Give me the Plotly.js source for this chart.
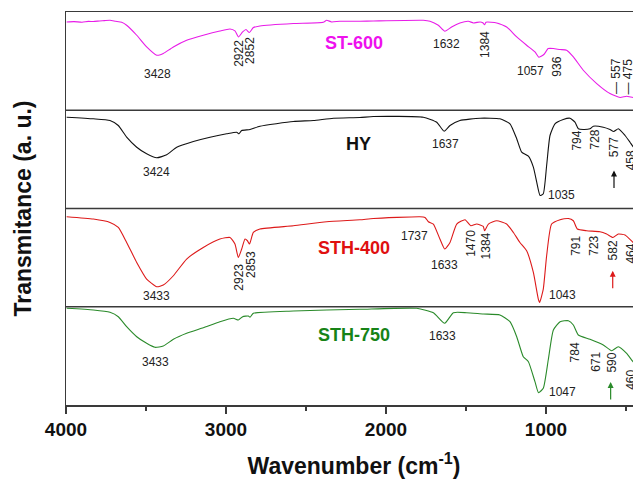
<!DOCTYPE html>
<html><head><meta charset="utf-8">
<script src="https://cdn.plot.ly/plotly-3.0.1.min.js"></script>
<style>html,body{margin:0;padding:0;overflow:hidden;background:#fff}#chart{width:660px;height:482px}</style>
</head><body><div id="chart"></div>
<script>
// ---- data (wavenumber in cm-1, transmittance in a.u. within each panel) ----
const samples = ['ST-600', 'HY', 'STH-400', 'STH-750'];

const wnST600 = [3996,3950,3900,3860,3829,3790,3760,3725,3690,3652,3621,3558,3496,3433,3410,3392,3329,3246,3142,3038,2975,2944,2922,2896,2875,2854,2829,2788,2579,2392,2371,2340,2288,2163,2079,1767,1725,1673,1632,1590,1538,1485,1454,1412,1395,1384,1375,1308,1246,1183,1121,1069,1045,1030,1012,986,954,912,871,829,767,683,600,537,496,456,400];
const tST600 = [88.3,88.6,88.0,88.9,88.7,89.3,89.6,90,89,88,85,75,63.3,55,55.5,56.7,63.3,70,75,79.3,81.3,79.3,73.3,78.3,80.7,77.7,82.7,84.3,86.7,88,90,88.3,89,89,89.3,90,89,85,79,83.3,87.3,89,87.3,88.3,87.5,85.5,88,87.3,83.3,73.3,65,58.3,53,54,56,61.7,61.7,60.7,60,53.3,40,26.7,16.7,12.7,14,12.7,12];

const wnHY = [3996,3829,3725,3673,3621,3558,3496,3433,3371,3308,3204,3100,2996,2933,2919,2902,2850,2788,2579,2454,2329,2163,2079,1767,1683,1637,1600,1538,1412,1288,1225,1183,1152,1110,1079,1058,1037,1017,996,975,944,892,850,819,798,767,725,704,642,600,577,548,506,475,456,400];
const tHY = [91.3,89.7,88,83,71.3,61.3,54.7,50.7,53.7,61.3,67,71.3,74.7,76.3,74.7,78,79,82.3,87,88,90.3,91,92,91.3,86.3,77.3,83,88,90.3,89.7,84.7,69.7,56.3,52.3,41.3,26.3,13,14.7,43,73,84.7,89,90.3,86.3,79.7,79,79.7,82.3,81.3,79,77,79.7,73,66.3,62,55];

const wnSTH400 = [3996,3829,3725,3673,3621,3558,3496,3433,3392,3329,3246,3142,3038,2975,2944,2923,2902,2881,2866,2853,2829,2788,2579,2371,2163,2079,1788,1756,1735,1704,1663,1633,1600,1558,1506,1470,1433,1392,1384,1360,1308,1246,1204,1163,1121,1079,1048,1040,1017,996,965,912,860,829,804,746,663,621,582,548,506,456,400];
const tSTH400 = [90,87.7,84.3,79.3,64.3,44.3,27.7,20,21.7,31,47.7,59.3,67.7,69.3,62.7,49.3,57.7,67.7,66,62.7,74.3,77.7,81,85,87,88.3,90,89.3,85,82.7,67.7,57.7,64.3,82.7,87,81,82.7,80.3,76,82.7,86,82.7,74.3,64.3,56,34.3,7.7,4.3,17.7,51,82.7,87,88.3,86,77.7,76,75,72.7,69.3,72.7,71.7,64.3,55];

const wnSTH750 = [3996,3829,3725,3673,3621,3558,3496,3444,3392,3329,3246,3142,3038,2954,2923,2896,2860,2850,2829,2579,2163,1808,1704,1633,1579,1496,1392,1288,1225,1183,1142,1110,1069,1047,1017,986,954,912,860,829,798,725,642,590,548,496,456,400];
const tSTH750 = [96.7,95,92.7,88.3,78.3,68.3,61.7,57.7,59,65.7,71.7,77.3,83.3,86.7,85,88.3,89,87.7,91.7,94,95.7,96.7,92.3,81.7,92.3,92.3,91,90,83.3,68.3,48.3,43.3,23.3,12.3,16.7,45,75,83.3,84.3,80,70,65.7,60,54.3,58.3,51.7,43.3,35];

// peak labels per sample
const peakText = [
  ['3428','2922','2852','1632','1384','1057','936','— 557','— 475'],
  ['3424','1637','1035','794','728','577','458'],
  ['3433','2923','2853','1737','1633','1470','1384','1043','791','723','582','464'],
  ['3433','1633','1047','784','671','590','460']
];
const peakWn = [
  [3427,2923,2846,1625,1377,1100,933,564,486],
  [3433,1631,902,812,700,575,470],
  [3433,2919,2844,1819,1637,1465,1377,896,812,700,583,470],
  [3440,1646,896,819,687,590,470]
];
const peakT = [
  [36.7,56.7,60,66.7,66,39.3,43.3,34,34],
  [36.3,64.7,13.7,68,69,61.3,48],
  [10.3,30,42.7,70.3,41.7,63.5,61,11.7,61,61,56,53],
  [43.3,69,13.3,52.5,43.3,42,25]
];
const peakRot = [
  [0,1,1,0,1,0,1,1,1],
  [0,0,0,1,1,1,1],
  [0,1,1,0,0,1,1,0,1,1,1,1],
  [0,0,0,1,1,1,1]
];
const arrowWn = [null, 575, 583, 596];
const arrowT = [null, 38, 36, 23];

// ---- styling ----
const FONT = 'Liberation Sans, Arial, Helvetica, sans-serif';
const colors = ['#e81ce8', '#111111', '#dd1a1a', '#2a8a2a'];
const labelColors = ['#ee11ee', '#111111', '#e01010', '#178317'];
const PANEL = 98.25;
const frame = '#3a3a3a';

const wns = [wnST600, wnHY, wnSTH400, wnSTH750];
const ts = [tST600, tHY, tSTH400, tSTH750];

const traces = samples.map((name, i) => {
  const off = (3 - i) * PANEL;
  return {
    type: 'scatter', mode: 'lines', name: name,
    x: wns[i], y: ts[i].map(v => v + off),
    line: {color: colors[i], width: 1.1, shape: 'spline', smoothing: 0.5},
    hoverinfo: 'skip', showlegend: false
  };
});

const annotations = [];
const labelWn = [2200, 2175, 2200, 2200];
const labelT = [67, 65, 59, 70];
samples.forEach((name, i) => {
  const off = (3 - i) * PANEL;
  annotations.push({
    xref: 'x', yref: 'y', x: labelWn[i], y: labelT[i] + off,
    text: name, showarrow: false,
    font: {family: FONT, size: 18, weight: 700, color: labelColors[i]}
  });
  peakText[i].forEach((t, j) => {
    annotations.push({
      xref: 'x', yref: 'y', x: peakWn[i][j], y: peakT[i][j] + off,
      text: t, showarrow: false, textangle: peakRot[i][j] ? -90 : 0,
      font: {family: FONT, size: 12, color: '#222'}
    });
  });
  if (arrowWn[i] !== null) {
    annotations.push({
      xref: 'x', yref: 'y', x: arrowWn[i], y: arrowT[i] + off,
      text: '', showarrow: true, ax: 0, ay: 19,
      arrowhead: 2, arrowsize: 1, arrowwidth: 1.2, arrowcolor: colors[i]
    });
  }
});

const shapes = [1, 2, 3].map(k => ({
  type: 'line', xref: 'paper', yref: 'y', x0: 0, x1: 1, y0: k * PANEL, y1: k * PANEL,
  line: {color: frame, width: 1.5}
}));

const layout = {
  width: 660, height: 482,
  margin: {l: 66, r: 18, t: 12, b: 77},
  paper_bgcolor: '#fff', plot_bgcolor: '#fff',
  font: {family: FONT, color: '#111'},
  xaxis: {
    range: [4000, 400], showgrid: false, zeroline: false,
    showline: true, mirror: true, linecolor: frame, linewidth: 1.5,
    ticks: 'outside', ticklen: 7, tickwidth: 1.2, tickcolor: frame,
    tickvals: [4000, 3000, 2000, 1000],
    minor: {tickvals: [3500, 2500, 1500, 500], ticks: 'outside', ticklen: 4, tickwidth: 1.2, tickcolor: frame},
    tickfont: {family: FONT, size: 19, weight: 700, color: '#111'},
    title: {text: 'Wavenumber (cm<sup>-1</sup>)', font: {family: FONT, size: 23, weight: 700, color: '#111'}, standoff: 18},
    automargin: false
  },
  yaxis: {
    range: [0, 4 * PANEL], showgrid: false, zeroline: false,
    showline: true, mirror: true, linecolor: frame, linewidth: 1.5,
    ticks: '', showticklabels: false,
    title: {text: 'Transmitance (a. u.)', font: {family: FONT, size: 23, weight: 700, color: '#111'}, standoff: 26},
    automargin: false
  },
  shapes: shapes,
  annotations: annotations,
  showlegend: false
};

Plotly.newPlot('chart', traces, layout, {displayModeBar: false, staticPlot: true});
</script>
</body></html>
